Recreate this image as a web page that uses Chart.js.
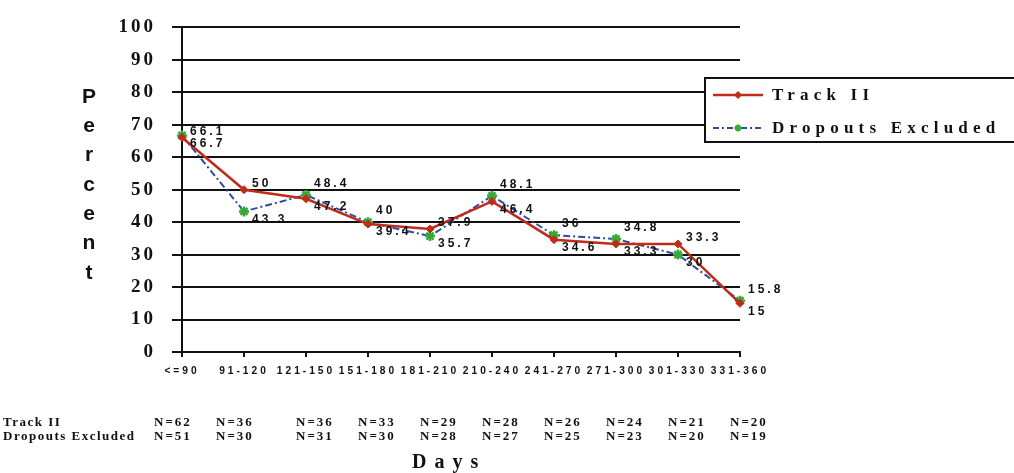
<!DOCTYPE html>
<html lang="en">
<head>
    <meta charset="UTF-8">
    <title>Track II by Days</title>
    <script src="https://cdn.jsdelivr.net/npm/chart.js@4.4.0/dist/chart.umd.min.js"></script>
    <style>
        html, body { margin: 0; padding: 0; background: #fff; }
        #wrap { width: 1014px; height: 473px; position: relative; }
    </style>
</head>
<body>
<div id="wrap"><canvas id="chart"></canvas></div>
<script>
    // values
    var categories = ['<=90', '91-120', '121-150', '151-180', '181-210', '210-240', '241-270', '271-300', '301-330', '331-360'];
    var trackII = [66.1, 50, 47.2, 39.4, 37.9, 46.4, 34.6, 33.3, 33.3, 15];
    var dropoutsExcluded = [66.7, 43.3, 48.4, 40, 35.7, 48.1, 36, 34.8, 30, 15.8];
    var nTrackII = [62, 36, 36, 33, 29, 28, 26, 24, 21, 20];
    var nDropouts = [51, 30, 31, 30, 28, 27, 25, 23, 20, 19];
    var seriesNames = ['Track II', 'Dropouts Excluded'];
    var yMin = 0, yMax = 100, yStep = 10;
    var yTitle = 'Percent';
    var xTitle = 'Days';

    var RED = '#c02c1a';
    var BLUE = '#2c4ca8';
    var GREEN = '#38a838';
    var SERIF = '"Liberation Serif", "DejaVu Serif", serif';
    var SANS = '"Liberation Sans", Arial, sans-serif';

    function drawDiamond(ctx, x, y, r) {
        ctx.beginPath();
        ctx.moveTo(x, y - r); ctx.lineTo(x + r, y); ctx.lineTo(x, y + r); ctx.lineTo(x - r, y);
        ctx.closePath();
        ctx.fillStyle = RED;
        ctx.fill();
    }
    function drawStar(ctx, x, y, r) {
        ctx.strokeStyle = GREEN;
        ctx.lineWidth = 2;
        ctx.beginPath();
        ctx.moveTo(x - r, y); ctx.lineTo(x + r, y);
        ctx.moveTo(x, y - r); ctx.lineTo(x, y + r);
        ctx.moveTo(x - r * 0.7, y - r * 0.7); ctx.lineTo(x + r * 0.7, y + r * 0.7);
        ctx.moveTo(x - r * 0.7, y + r * 0.7); ctx.lineTo(x + r * 0.7, y - r * 0.7);
        ctx.stroke();
    }

    var spacingPlugin = {
        id: 'spacing',
        beforeDraw: function (chart) {
            chart.ctx.letterSpacing = '3px';
        }
    };

    // value labels beside the points: higher one above, lower one below
    var valueLabels = {
        id: 'valueLabels',
        afterDatasetsDraw: function (chart) {
            var ctx = chart.ctx;
            var m0 = chart.getDatasetMeta(0).data;
            var m1 = chart.getDatasetMeta(1).data;
            ctx.save();
            ctx.letterSpacing = '3px';
            ctx.font = 'bold 12px ' + SANS;
            ctx.fillStyle = '#111';
            ctx.textAlign = 'left';
            ctx.textBaseline = 'middle';
            for (var i = 0; i < categories.length; i++) {
                var a = trackII[i], b = dropoutsExcluded[i];
                var pa = m0[i], pb = m1[i];
                var upA = a > b || i === 0;
                ctx.fillText(String(a), pa.x + 8, pa.y + (upA ? -6 : 8));
                ctx.fillText(String(b), pb.x + 8, pb.y + (upA ? 8 : -11));
            }
            ctx.restore();
        }
    };

    // titles, N table and legend box
    var extras = {
        id: 'extras',
        afterDraw: function (chart) {
            var ctx = chart.ctx;
            var xs = chart.scales.x;
            ctx.save();

            // stacked y title
            ctx.letterSpacing = '0px';
            ctx.font = 'bold 21px ' + SANS;
            ctx.fillStyle = '#111';
            ctx.textAlign = 'center';
            ctx.textBaseline = 'middle';
            for (var k = 0; k < yTitle.length; k++) {
                ctx.fillText(yTitle[k], 89, 97 + k * 29.3);
            }

            // N table
            ctx.textAlign = 'left';
            ctx.letterSpacing = '1.5px';
            ctx.font = 'bold 13px ' + SERIF;
            ctx.fillText(seriesNames[0], 3, 423);
            ctx.fillText(seriesNames[1], 3, 437);
            ctx.letterSpacing = '2px';
            for (var i = 0; i < categories.length; i++) {
                var px = xs.getPixelForValue(i) - (i < 2 ? 28 : 10);
                ctx.fillText('N=' + nTrackII[i], px, 423);
                ctx.fillText('N=' + nDropouts[i], px, 437);
            }

            // x title
            ctx.letterSpacing = '8px';
            ctx.font = 'bold 20px ' + SERIF;
            ctx.fillText(xTitle, 412, 463);

            // legend
            ctx.letterSpacing = '0px';
            ctx.fillStyle = '#fff';
            ctx.fillRect(705, 78, 320, 64);
            ctx.strokeStyle = '#111';
            ctx.lineWidth = 2;
            ctx.strokeRect(705, 78, 320, 64);

            ctx.strokeStyle = RED;
            ctx.lineWidth = 2.5;
            ctx.beginPath(); ctx.moveTo(713, 95); ctx.lineTo(763, 95); ctx.stroke();
            drawDiamond(ctx, 738, 95, 4);

            ctx.strokeStyle = BLUE;
            ctx.lineWidth = 2;
            ctx.setLineDash([6, 3, 2, 3]);
            ctx.beginPath(); ctx.moveTo(713, 128); ctx.lineTo(763, 128); ctx.stroke();
            ctx.setLineDash([]);
            drawStar(ctx, 738, 128, 3.5);

            ctx.fillStyle = '#111';
            ctx.letterSpacing = '5.2px';
            ctx.font = 'bold 17px ' + SERIF;
            ctx.textBaseline = 'middle';
            ctx.fillText(seriesNames[0], 772, 96);
            ctx.fillText(seriesNames[1], 772, 129);
            ctx.restore();
        }
    };

    var chart = new Chart(document.getElementById('chart'), {
        type: 'line',
        data: {
            labels: categories,
            datasets: [{
                label: seriesNames[0],
                data: trackII,
                borderColor: RED,
                backgroundColor: RED,
                borderWidth: 2.5,
                pointStyle: 'rectRot',
                pointRadius: 4,
                pointBorderWidth: 1,
                tension: 0
            }, {
                label: seriesNames[1],
                data: dropoutsExcluded,
                borderColor: BLUE,
                backgroundColor: GREEN,
                borderWidth: 2,
                borderDash: [7, 3, 2, 3],
                pointStyle: 'star',
                pointRadius: 5,
                pointBorderColor: GREEN,
                pointBorderWidth: 2.5,
                tension: 0
            }]
        },
        options: {
            responsive: true,
            maintainAspectRatio: false,
            animation: false,
            layout: { padding: { left: 0, right: 274, top: 20, bottom: 0 } },
            plugins: {
                legend: { display: false },
                tooltip: { enabled: false }
            },
            scales: {
                x: {
                    offset: false,
                    grid: { drawOnChartArea: false, drawTicks: true, tickLength: 5, color: '#111', lineWidth: 2 },
                    border: { display: true, color: '#111', width: 2 },
                    ticks: {
                        color: '#111',
                        font: { family: SANS, size: 10.2, weight: 'bold' },
                        padding: 8,
                        maxRotation: 0,
                        autoSkip: false
                    },
                    afterFit: function (scale) { scale.height = 121; }
                },
                y: {
                    min: yMin,
                    max: yMax,
                    grid: { color: '#111', lineWidth: 2, tickLength: 10 },
                    border: { display: true, color: '#111', width: 2 },
                    ticks: {
                        stepSize: yStep,
                        color: '#111',
                        font: { family: SERIF, size: 19, weight: 'bold' },
                        padding: 16
                    },
                    afterFit: function (scale) { scale.width = 182; }
                }
            }
        },
        plugins: [spacingPlugin, valueLabels, extras]
    });
</script>
</body>
</html>
